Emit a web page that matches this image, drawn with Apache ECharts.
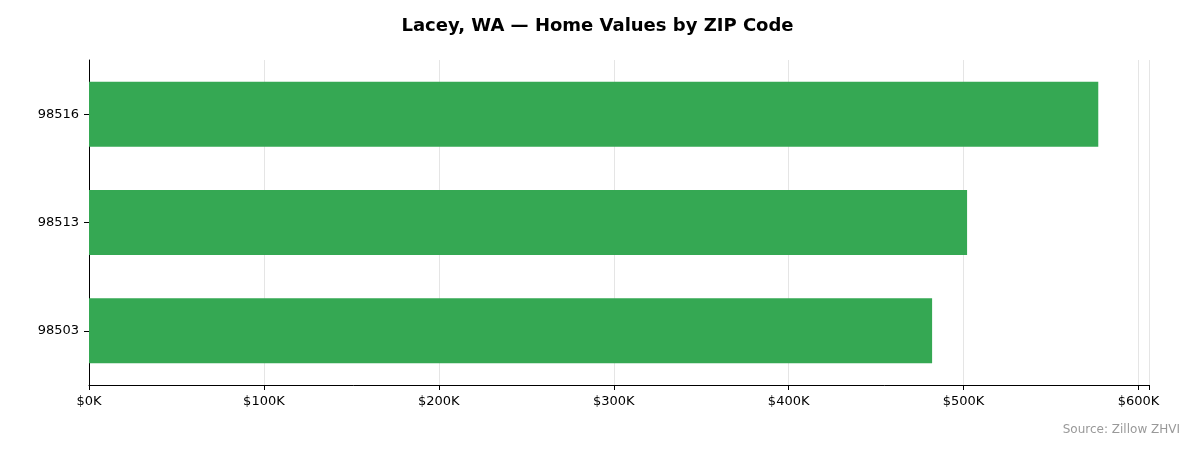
<!DOCTYPE html>
<html><head><meta charset="utf-8">
<script src="https://cdn.jsdelivr.net/npm/echarts@6/dist/echarts.min.js"></script>
<style>html,body{margin:0;padding:0;background:#fff}#c{width:1195px;height:455px}</style>
</head><body><div id="c"></div>
<script>
const zips = ['98503', '98513', '98516'];
const values = [482000, 502000, 577000];
const tickValues = [0, 100000, 200000, 300000, 400000, 500000, 600000];

const chart = echarts.init(document.getElementById('c'));
chart.setOption({
  animation: false,
  title: {
    text: 'Lacey, WA — Home Values by ZIP Code',
    left: 'center', top: 12,
    textStyle: { fontFamily: 'DejaVu Sans', fontSize: 18, fontWeight: 'bold', color: '#000' }
  },
  graphic: [{
    type: 'text', right: 15, top: 424,
    style: { text: 'Source: Zillow ZHVI', fill: '#999', font: '12px "DejaVu Sans"' }
  }],
  grid: { left: 89, right: 46, top: 60, bottom: 70 },
  xAxis: {
    type: 'value', min: 0, max: 606000, interval: 100000,
    axisLine: { show: true, lineStyle: { color: '#000' } },
    axisTick: { show: true, length: 5, lineStyle: { color: '#000' } },
    axisLabel: {
      fontFamily: 'DejaVu Sans', fontSize: 13, color: '#000', margin: 10,
      formatter: v => tickValues.includes(v) ? '$' + (v / 1000) + 'K' : ''
    },
    splitLine: { show: true, lineStyle: { color: '#e5e5e5' } }
  },
  yAxis: {
    type: 'category', data: zips,
    axisLine: { show: true, lineStyle: { color: '#000' } },
    axisTick: { show: true, alignWithLabel: true, length: 5, lineStyle: { color: '#000' } },
    axisLabel: { fontFamily: 'DejaVu Sans', fontSize: 13, color: '#000', margin: 10 }
  },
  series: [{
    type: 'bar', data: values, barWidth: '60%',
    itemStyle: { color: '#35a853' }
  }]
});
</script></body></html>
